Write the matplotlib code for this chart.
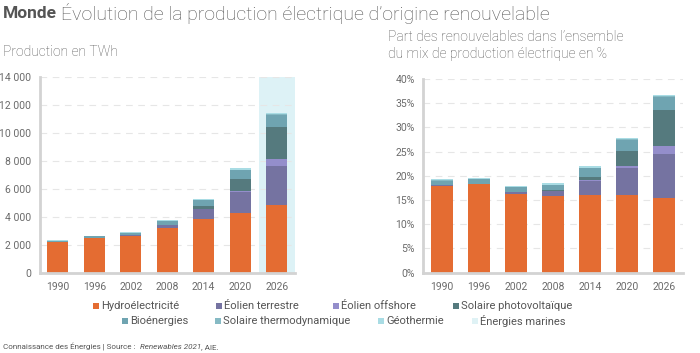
import matplotlib
matplotlib.use("Agg")
import matplotlib.pyplot as plt
from matplotlib.patches import Rectangle
import numpy as np

plt.rcParams['font.family'] = ['Roboto', 'DejaVu Sans']

years = ["1990", "1996", "2002", "2008", "2014", "2020", "2026"]
sources = ["Hydroélectricité", "Éolien terrestre", "Éolien offshore", "Solaire photovoltaïque",
           "Bioénergies", "Solaire thermodynamique", "Géothermie", "Énergies marines"]
colors = ["#E46C32", "#7573A1", "#948ECB", "#557A7E", "#6FA4B1", "#86BAC4", "#A9DCE4", "#DFF2F5"]

# Production in TWh
hydro_twh    = [2170, 2480, 2620, 3180, 3870, 4290, 4840]
onshore_twh  = [4, 10, 50, 220, 680, 1490, 2800]
offshore_twh = [0, 0, 1, 5, 25, 100, 480]
pv_twh       = [0, 1, 2, 12, 200, 830, 2290]
bio_twh      = [110, 130, 170, 270, 440, 650, 900]
csp_twh      = [1, 1, 1, 2, 9, 14, 40]
geo_twh      = [36, 40, 50, 65, 77, 95, 120]
marine_twh   = [1, 1, 1, 1, 1, 1, 3]

# Share of total electricity mix, %
hydro_pct    = [18.0, 18.3, 16.3, 15.8, 16.1, 16.0, 15.5]
onshore_pct  = [0.03, 0.07, 0.35, 1.1, 2.85, 5.55, 9.0]
offshore_pct = [0.0, 0.0, 0.01, 0.03, 0.1, 0.42, 1.6]
pv_pct       = [0.0, 0.01, 0.01, 0.06, 0.8, 3.1, 7.4]
bio_pct      = [1.0, 0.9, 1.0, 1.2, 1.75, 2.4, 2.8]
csp_pct      = [0.01, 0.01, 0.01, 0.01, 0.04, 0.05, 0.1]
geo_pct      = [0.3, 0.3, 0.3, 0.3, 0.32, 0.33, 0.35]
marine_pct   = [0.01, 0.01, 0.01, 0.01, 0.01, 0.01, 0.02]

twh = [hydro_twh, onshore_twh, offshore_twh, pv_twh, bio_twh, csp_twh, geo_twh, marine_twh]
pct = [hydro_pct, onshore_pct, offshore_pct, pv_pct, bio_pct, csp_pct, geo_pct, marine_pct]

fig = plt.figure(figsize=(7.0, 3.53), dpi=100)
W, H = 700, 353

def ax_rect(x0, x1, ytop, ybot):
    return [x0 / W, 1 - ybot / H, (x1 - x0) / W, (ybot - ytop) / H]

axL = fig.add_axes(ax_rect(39.5, 295, 77.3, 272.7))
axR = fig.add_axes(ax_rect(423.3, 682.7, 79, 272.7))

tick_col = "#6b6b6b"
spine_col = "#d3d3d3"

def draw(ax, data, ymax, step, fmt, band=False):
    x = np.arange(len(years))
    if band:
        ax.axvspan(5.5, 6.5, color="#DDF2F6", zorder=0, lw=0)
    bottom = np.zeros(len(years))
    for vals, c in zip(data, colors):
        v = np.array(vals, dtype=float)
        ax.bar(x, v, 0.58, bottom=bottom, color=c, zorder=2, lw=0)
        bottom += v
    ax.set_xlim(-0.5, 6.5)
    ax.set_ylim(0, ymax)
    ticks = np.arange(0, ymax + step / 2, step)
    ax.set_yticks(ticks)
    ax.set_yticklabels([fmt(t) for t in ticks])
    ax.set_xticks(x)
    ax.set_xticklabels(years)
    ax.tick_params(length=0, colors=tick_col, labelsize=7.5, pad=6)
    ax.tick_params(axis='x', pad=7)
    for s in ["top", "right"]:
        ax.spines[s].set_visible(False)
    for s in ["left", "bottom"]:
        ax.spines[s].set_color(spine_col)
        ax.spines[s].set_linewidth(2)
    ax.grid(axis='y', color="#e6e6e6", linestyle=(0, (6, 5)), lw=0.8, zorder=1)
    ax.set_axisbelow(True)
    ax.patch.set_alpha(0)

draw(axL, twh, 14000, 2000, lambda t: f"{int(t):,}".replace(",", " "), band=True)
draw(axR, pct, 40, 5, lambda t: f"{int(t)}%")

# Titles
fig.canvas.draw()
tm = fig.text(3 / W, 1 - 13 / H, "Monde", fontsize=12.5, fontweight="bold", color="#555555", va="center")
fig.canvas.draw()
bbm = tm.get_window_extent()
fig.text((bbm.x1 + 4) / fig.bbox.width, 1 - 13 / H,
         "Évolution de la production électrique d’origine renouvelable",
         fontsize=14, fontweight="light", color="#555555", va="center")
fig.text(3 / W, 1 - 52 / H, "Production en TWh", fontsize=10, fontweight="light",
         color="#555555", va="center")
fig.text(388 / W, 1 - 45.5 / H, "Part des renouvelables dans l’ensemble\ndu mix de production électrique en %",
         fontsize=10, fontweight="light", color="#555555", va="center", linespacing=1.3)

# Legend
legend_pos = [(93, 306), (216, 306), (333, 306), (453, 306),
              (122, 321), (215, 321), (378, 321), (472, 321)]
for (lx, ly), lab, c in zip(legend_pos, sources, colors):
    fig.patches.append(Rectangle((lx / W, 1 - (ly + 3) / H), 6 / W, 6 / H,
                                 transform=fig.transFigure, color=c, lw=0))
    fig.text((lx + 8) / W, 1 - ly / H, lab, fontsize=8, color="#555555", va="center")

# Footer
t1 = fig.text(3 / W, 1 - 347 / H, "Connaissance des Énergies | Source :  ", fontsize=5.8,
              color="#555555", va="center")
fig.canvas.draw()
bb = t1.get_window_extent()
t2 = fig.text(bb.x1 / fig.bbox.width, 1 - 347 / H, "Renewables 2021", fontsize=5.8,
              style="italic", color="#555555", va="center")
fig.canvas.draw()
bb2 = t2.get_window_extent()
fig.text(bb2.x1 / fig.bbox.width, 1 - 347 / H, ", AIE.", fontsize=5.8, color="#555555", va="center")

fig.savefig("out.png", dpi=100, facecolor="white")
